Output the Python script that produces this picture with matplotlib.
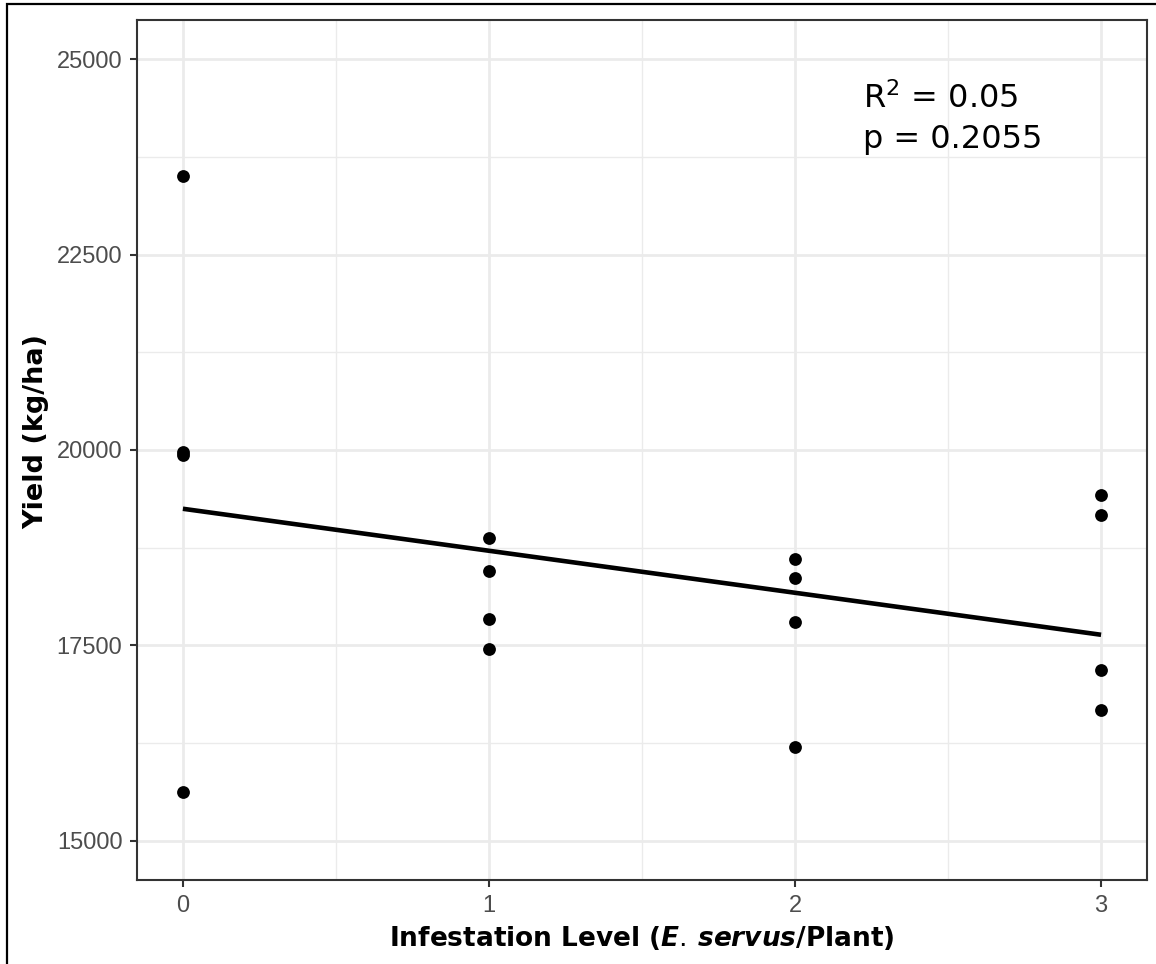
import numpy as np
import matplotlib
matplotlib.use('Agg')
from matplotlib import pyplot as plt
from matplotlib.patches import Rectangle

# data
infestation = [0, 0, 0, 0, 1, 1, 1, 1, 2, 2, 2, 2, 3, 3, 3, 3]
yield_kg = [23510, 19980, 19940, 15625,
            18875, 18450, 17835, 17460,
            18600, 18365, 17800, 16195,
            19425, 19170, 17180, 16670]
x_ticks = [0, 1, 2, 3]
y_ticks = [15000, 17500, 20000, 22500, 25000]
stat_lines = ['R$^2$ = 0.05', 'p = 0.2055']
stat_y = [24375, 23865]

plt.rcParams['mathtext.fontset'] = 'custom'
plt.rcParams['mathtext.rm'] = 'DejaVu Sans'
plt.rcParams['mathtext.it'] = 'DejaVu Sans:italic:bold'
plt.rcParams['mathtext.bf'] = 'DejaVu Sans:bold'

fig = plt.figure(figsize=(11.56, 9.64), dpi=100)
ax = fig.add_axes([137/1156, 1-880/964, 1010/1156, 860/964])

x = np.array(infestation, dtype=float)
y = np.array(yield_kg, dtype=float)
# 线性拟合
slope, inter = np.polyfit(x, y, 1)
xl = np.array([min(x_ticks), max(x_ticks)])
ax.plot(xl, inter + slope*xl, color='black', lw=3.3, solid_capstyle='butt', zorder=3)
ax.scatter(x, y, s=85, color='black', zorder=4, linewidths=0)

ax.set_xlim(-0.15, 3.15)
ax.set_ylim(14500, 25500)
ax.set_xticks(x_ticks)
ax.set_yticks(y_ticks)
ax.set_xticks([0.5, 1.5, 2.5], minor=True)
ax.set_yticks([16250, 18750, 21250, 23750], minor=True)
ax.grid(which='major', color='#EBEBEB', lw=2.0, zorder=0)
ax.grid(which='minor', color='#EBEBEB', lw=1.0, zorder=0)
ax.set_axisbelow(True)
ax.tick_params(which='minor', length=0)
ax.tick_params(which='major', length=5, width=1.5, color='#333333', pad=5.5,
               labelsize=17, labelcolor='#4D4D4D')
for lab in ax.get_xticklabels() + ax.get_yticklabels():
    lab.set_family('Liberation Sans')
for sp in ax.spines.values():
    sp.set_color('#333333')
    sp.set_linewidth(1.5)

ax.set_xlabel('Infestation Level ($\\mathit{E.\\,servus}$/Plant)', fontsize=19,
              fontweight='bold', family='DejaVu Sans', labelpad=5)
ax.set_ylabel('Yield (kg/ha)', fontsize=19.5, fontweight='bold', family='DejaVu Sans')
ax.yaxis.set_label_coords(-0.087, 1-(432-20)/860)

for s, yy in zip(stat_lines, stat_y):
    ax.text(2.222, yy, s, ha='left', va='baseline', fontsize=23, family='DejaVu Sans')

# 外框
fig.patches.append(Rectangle((7/1156, -0.05), 1.1, 1-4/964+0.05, transform=fig.transFigure,
                             fill=False, edgecolor='black', lw=1.6))

fig.savefig('out.png', dpi=100)
